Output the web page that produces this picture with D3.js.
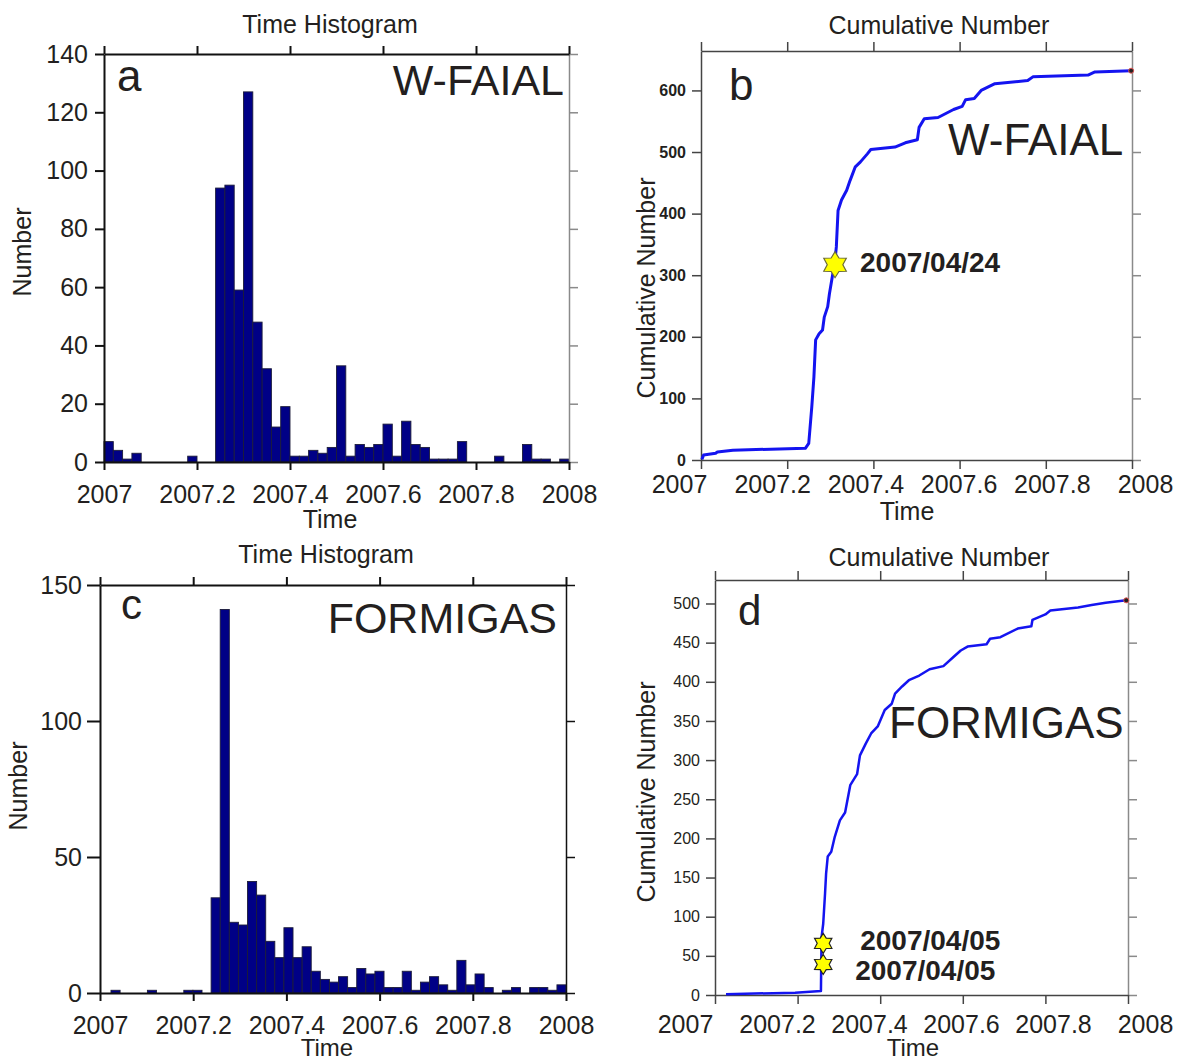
<!DOCTYPE html>
<html>
<head>
<meta charset="utf-8">
<script src="https://cdn.jsdelivr.net/npm/d3@7"></script>
<style>
  body { margin: 0; background: #fff; }
  svg { display: block; font-family: "Liberation Sans", Arial, sans-serif; }
</style>
</head>
<body>
<svg id="fig" width="1180" height="1062"></svg>
<script>
const timeTicks = [2007, 2007.2, 2007.4, 2007.6, 2007.8, 2008];
const timeTickLabels = ["2007", "2007.2", "2007.4", "2007.6", "2007.8", "2008"];

// W-FAIAL histogram (50 bins)
const faialBinStart = 2007.0;
const faialBinWidth = 0.02;
const faialCounts = [7, 4, 1, 3, 0, 0, 0, 0, 0, 2, 0, 0, 94, 95, 59, 127, 48, 32, 12, 19,
  2, 2, 4, 3, 5, 33, 2, 6, 5, 6, 13, 2, 14, 6, 5, 1, 1, 1, 7, 0, 0, 0, 2, 0, 0, 6, 1, 1, 0, 1];
const faialHistTicks = [0, 20, 40, 60, 80, 100, 120, 140];

// FORMIGAS histogram (50 bins)
const formigasBinStart = 2007.0236;
const formigasBinWidth = 0.01953;
const formigasCounts = [1, 0, 0, 0, 1, 0, 0, 0, 1, 1, 0, 35, 141, 26, 25, 41, 36, 19, 13, 24,
  13, 17, 8, 5, 4, 6, 2, 9, 7, 8, 2, 2, 8, 1, 4, 6, 3, 1, 12, 3, 7, 2, 0, 1, 2, 0, 2, 2, 1, 3];
const formigasHistTicks = [0, 50, 100, 150];

// cumulative curves
const faialCumTime = [2007.002, 2007.006, 2007.034, 2007.038, 2007.074, 2007.242, 2007.25, 2007.257,
  2007.262, 2007.266, 2007.274, 2007.282, 2007.286, 2007.294, 2007.298, 2007.306, 2007.310, 2007.314,
  2007.318, 2007.326, 2007.338, 2007.346, 2007.358, 2007.370, 2007.386, 2007.394, 2007.450, 2007.474,
  2007.502, 2007.506, 2007.518, 2007.550, 2007.586, 2007.606, 2007.614, 2007.634, 2007.650, 2007.682,
  2007.758, 2007.770, 2007.898, 2007.914, 2007.998];
const faialCumCount = [1, 8, 11, 13, 16, 19, 27, 86, 135, 195, 205, 211, 232, 249, 270, 303, 317, 346,
  405, 422, 438, 454, 476, 484, 497, 504, 508, 515, 520, 540, 554, 556, 569, 574, 585, 587, 600, 611,
  616, 622, 625, 630, 632];
const faialCumTicks = [0, 100, 200, 300, 400, 500, 600];
const faialStarTime = [2007.311];
const faialStarCount = [317];
const faialStarLabel = ["2007/04/24"];

const formigasCumTime = [2007.0267, 2007.194, 2007.2565, 2007.258, 2007.262, 2007.2665, 2007.269,
  2007.273, 2007.2815, 2007.29, 2007.3024, 2007.315, 2007.3275, 2007.344, 2007.351, 2007.365, 2007.378,
  2007.394, 2007.411, 2007.428, 2007.436, 2007.453, 2007.4695, 2007.4946, 2007.5196, 2007.553, 2007.578,
  2007.595, 2007.6115, 2007.6575, 2007.666, 2007.691, 2007.733, 2007.766, 2007.7686, 2007.800, 2007.812,
  2007.879, 2007.912, 2007.946, 2007.9958];
const formigasCumCount = [1, 3, 5, 74, 91, 130, 155, 177, 183, 202, 223, 233, 268, 282, 306, 321, 334,
  343, 364, 372, 385, 394, 402, 408, 416, 420, 432, 440, 445, 448, 455, 457, 468, 471, 479, 486, 491,
  495, 498, 501, 504];
const formigasCumTicks = [0, 50, 100, 150, 200, 250, 300, 350, 400, 450, 500];
const formigasStarTime = [2007.262, 2007.262];
const formigasStarCount = [66, 39];
const formigasStarLabel = ["2007/04/05", "2007/04/05"];

const ink = "#231f20";
const svg = d3.select("#fig");
svg.append("rect").attr("width", 1180).attr("height", 1062).attr("fill", "#fff");

function styleAxis(g, color, width) {
  g.select(".domain").attr("stroke", color).attr("stroke-width", width);
  g.selectAll(".tick line").attr("stroke", color).attr("stroke-width", width);
}

function text(x, y, str, size, opts = {}) {
  return svg.append("text")
    .attr("x", x).attr("y", y)
    .attr("font-size", size)
    .attr("fill", ink)
    .attr("text-anchor", opts.anchor || "start")
    .attr("font-weight", opts.bold ? "bold" : "normal")
    .text(str);
}

function vtext(x, y, str, size) {
  svg.append("text")
    .attr("transform", `translate(${x},${y}) rotate(-90)`)
    .attr("font-size", size).attr("fill", ink)
    .attr("text-anchor", "middle")
    .text(str);
}

function histPanel(box, binStart, binWidth, counts, yTicks, leftTick, labelPad) {
  const x = d3.scaleLinear().domain([2007, 2008]).range([box.left, box.right]);
  const y = d3.scaleLinear().domain([0, d3.max(yTicks)]).range([box.bottom, box.top]);

  svg.append("g")
    .selectAll("rect")
    .data(counts.map((c, i) => ({ x0: binStart + i * binWidth, c })).filter(d => d.c > 0))
    .enter()
    .append("rect")
    .attr("x", d => x(d.x0))
    .attr("y", d => y(d.c))
    .attr("width", d => x(d.x0 + binWidth) - x(d.x0))
    .attr("height", d => y(0) - y(d.c))
    .attr("fill", "#000086")
    .attr("stroke", "#1c1c3a")
    .attr("stroke-width", 0.9);

  svg.append("g").attr("transform", `translate(${box.right},0)`)
    .call(d3.axisRight(y).tickValues(yTicks).tickSize(9).tickSizeOuter(0).tickFormat(""))
    .call(g => styleAxis(g, box.rightColor, 1.5));
  svg.append("g").attr("transform", `translate(0,${box.top})`)
    .call(d3.axisTop(x).tickValues(timeTicks).tickSize(8).tickSizeOuter(0).tickFormat(""))
    .call(g => styleAxis(g, "#111", 2));

  const bottom = svg.append("g").attr("transform", `translate(0,${box.bottom})`)
    .call(d3.axisBottom(x).tickValues(timeTicks).tickSize(8).tickSizeOuter(0).tickPadding(15)
      .tickFormat((d, i) => timeTickLabels[i]))
    .call(g => styleAxis(g, "#111", 2));
  bottom.selectAll("text").attr("font-size", 25).attr("fill", ink)
    .attr("font-family", "Liberation Sans, Arial, sans-serif");

  const left = svg.append("g").attr("transform", `translate(${box.left},0)`)
    .call(d3.axisLeft(y).tickValues(yTicks).tickSize(leftTick).tickSizeOuter(0).tickPadding(labelPad))
    .call(g => styleAxis(g, "#111", 2));
  left.selectAll("text").attr("font-size", 25).attr("fill", ink)
    .attr("font-family", "Liberation Sans, Arial, sans-serif");
}

function starPath(r) {
  const pts = d3.range(12).map(i => [i * Math.PI / 6, i % 2 === 0 ? r : r * 0.6]);
  return d3.lineRadial().curve(d3.curveLinearClosed)(pts);
}

function cumPanel(box, times, counts, yMax, yTicks, tickBold, labelRange, labelPad, stars, lineW) {
  const x = d3.scaleLinear().domain([2007, 2008]).range([box.left, box.right]);
  const y = d3.scaleLinear().domain([0, yMax]).range([box.bottom, box.top]);
  const xLab = d3.scaleLinear().domain([2007, 2008]).range(labelRange);

  svg.append("g").attr("transform", `translate(${box.right},0)`)
    .call(d3.axisRight(y).tickValues(yTicks).tickSize(9).tickSizeOuter(0).tickFormat(""))
    .call(g => styleAxis(g, "#8a8a8a", 1.5));
  svg.append("g").attr("transform", `translate(0,${box.top})`)
    .call(d3.axisTop(x).tickValues(timeTicks).tickSize(9).tickSizeOuter(0).tickFormat(""))
    .call(g => styleAxis(g, "#444", 1.5));
  svg.append("g").attr("transform", `translate(0,${box.bottom})`)
    .call(d3.axisBottom(x).tickValues(timeTicks).tickSize(9).tickSizeOuter(0).tickFormat(""))
    .call(g => styleAxis(g, "#444", 1.5));

  const lab = svg.append("g").attr("transform", `translate(0,${box.bottom})`)
    .call(d3.axisBottom(xLab).tickValues(timeTicks).tickSize(0).tickPadding(labelPad)
      .tickFormat((d, i) => timeTickLabels[i]));
  lab.select(".domain").remove();
  lab.selectAll("text").attr("font-size", 25).attr("fill", ink)
    .attr("font-family", "Liberation Sans, Arial, sans-serif");

  const left = svg.append("g").attr("transform", `translate(${box.left},0)`)
    .call(d3.axisLeft(y).tickValues(yTicks).tickSize(9).tickSizeOuter(0).tickPadding(6))
    .call(g => styleAxis(g, "#444", 1.5));
  left.selectAll("text").attr("font-size", 16).attr("fill", ink)
    .attr("font-weight", tickBold ? "bold" : "normal")
    .attr("font-family", "Liberation Sans, Arial, sans-serif");

  const line = d3.line().x(d => x(d[0])).y(d => y(d[1]));
  svg.append("path")
    .datum(times.map((t, i) => [t, counts[i]]))
    .attr("d", line)
    .attr("fill", "none")
    .attr("stroke", "#1414f0")
    .attr("stroke-width", lineW)
    .attr("stroke-linejoin", "round");

  svg.append("circle")
    .attr("cx", x(times[times.length - 1])).attr("cy", y(counts[counts.length - 1]))
    .attr("r", 2.5).attr("fill", "#222").attr("stroke", "#e05050").attr("stroke-width", 1);

  stars.time.forEach((t, i) => {
    svg.append("path")
      .attr("transform", `translate(${x(t)},${y(stars.count[i])})`)
      .attr("d", starPath(stars.r))
      .attr("fill", "#ffff00")
      .attr("stroke", stars.stroke)
      .attr("stroke-width", 1.2);
    text(x(t) + stars.dx[i], y(stars.count[i]) + stars.dy[i], stars.label[i], 28, { bold: true });
  });
}

// panel a
histPanel({ left: 104, right: 569, top: 54, bottom: 462, rightColor: "#8a8a8a" },
  faialBinStart, faialBinWidth, faialCounts, faialHistTicks, 9, 7);
text(330, 33, "Time Histogram", 25, { anchor: "middle" });
text(330, 528, "Time", 25, { anchor: "middle" });
vtext(31, 252, "Number", 25);
text(117, 91, "a", 44);
text(564, 95, "W-FAIAL", 43, { anchor: "end" });

// panel c
histPanel({ left: 100, right: 566, top: 585, bottom: 993, rightColor: "#111" },
  formigasBinStart, formigasBinWidth, formigasCounts, formigasHistTicks, 13, 5);
text(326, 563, "Time Histogram", 25, { anchor: "middle" });
text(327, 1056, "Time", 24, { anchor: "middle" });
vtext(27, 786, "Number", 25);
text(121, 619, "c", 42);
text(557, 633, "FORMIGAS", 43, { anchor: "end" });

// panel b
cumPanel({ left: 701, right: 1132, top: 51, bottom: 460 }, faialCumTime, faialCumCount, 664,
  faialCumTicks, true, [679, 1145], 15,
  { time: faialStarTime, count: faialStarCount, label: faialStarLabel, r: 13, stroke: "#6b6b3a",
    dx: [25], dy: [7] }, 3);
text(939, 34, "Cumulative Number", 25, { anchor: "middle" });
text(907, 520, "Time", 25, { anchor: "middle" });
vtext(655, 288, "Cumulative Number", 25);
text(729, 100, "b", 44);
text(948, 155, "W-FAIAL", 44);

// panel d
cumPanel({ left: 715, right: 1128, top: 580, bottom: 995 }, formigasCumTime, formigasCumCount, 530,
  formigasCumTicks, false, [685, 1145], 20,
  { time: formigasStarTime, count: formigasStarCount, label: formigasStarLabel, r: 10, stroke: "#222",
    dx: [37, 32], dy: [7, 16] }, 2.5);
text(939, 566, "Cumulative Number", 25, { anchor: "middle" });
text(913, 1056, "Time", 24, { anchor: "middle" });
vtext(655, 792, "Cumulative Number", 25);
text(738, 625, "d", 42);
text(889, 738, "FORMIGAS", 44);
</script>
</body>
</html>
